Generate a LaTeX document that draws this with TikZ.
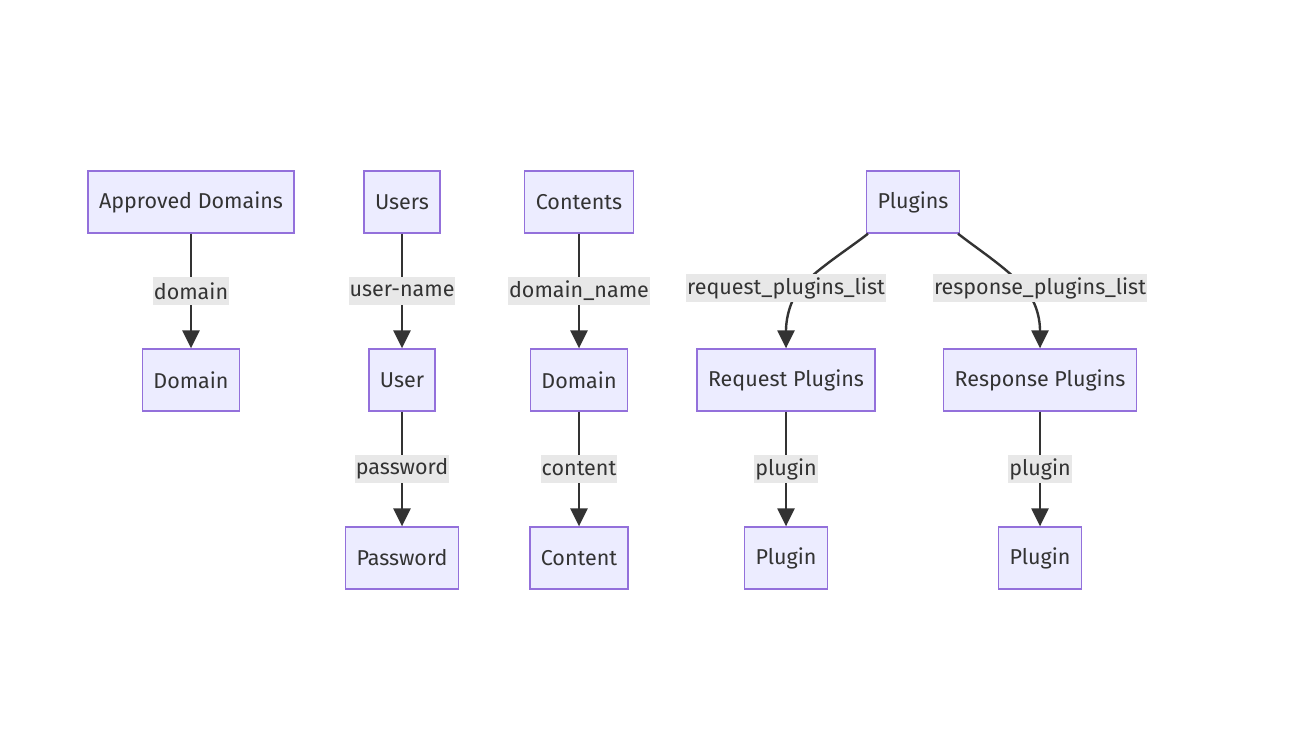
\documentclass[tikz,border=0pt]{standalone}
\usepackage{fontspec}
\setmainfont{Fira Sans}
\usepackage{tikz}
\usetikzlibrary{arrows.meta, calc}
\definecolor{mmFill}{HTML}{ECECFF}
\definecolor{mmLine}{HTML}{9370DB}
\definecolor{mmInk}{HTML}{333333}
\definecolor{mmLabel}{HTML}{E8E8E8}

\begin{document}
\begin{tikzpicture}[x=1pt,y=-1pt,
  font=\fontsize{21.5}{25}\selectfont,
  entity/.style={draw=mmLine,fill=mmFill,line width=1.3pt,minimum height=62pt,
                 inner xsep=11pt,text=mmInk},
  lbl/.style={fill=mmLabel,inner sep=1pt,minimum height=28pt,text=mmInk},
  arr/.style={-{Triangle[length=18pt,width=17pt]},line width=2.4pt,draw=mmInk}]
\useasboundingbox[fill=white] (0,0) rectangle (1296,754);

% ===== top row =====
\node[entity] (appr) at (191,202) {Approved Domains};
\node[entity] (users) at (402,202) {Users};
\node[entity] (conts) at (579,202) {Contents};
\node[entity] (plugs) at (913,202) {Plugins};

% ===== middle row =====
\node[entity] (dom1) at (191,380) {Domain};
\node[entity] (user) at (402,380) {User};
\node[entity] (dom2) at (579,380) {Domain};
\node[entity] (reqp) at (786,380) {Request Plugins};
\node[entity] (resp) at (1040,380) {Response Plugins};

% ===== bottom row =====
\node[entity] (pass) at (402,558) {Password};
\node[entity] (cont) at (579,558) {Content};
\node[entity] (plg1) at (786,558) {Plugin};
\node[entity] (plg2) at (1040,558) {Plugin};

% straight edges
\draw[arr] (appr.south) -- node[lbl] {domain} (dom1.north);
\draw[arr] (users.south) -- node[lbl] {user-name} (user.north);
\draw[arr] (user.south) -- node[lbl] {password} (pass.north);
\draw[arr] (conts.south) -- node[lbl] {domain\_name} (dom2.north);
\draw[arr] (dom2.south) -- node[lbl] {content} (cont.north);
\draw[arr] (reqp.south) -- node[lbl] {plugin} (plg1.north);
\draw[arr] (resp.south) -- node[lbl] {plugin} (plg2.north);

% curved edges out of Plugins
\draw[arr] ($(plugs.south)+(-45,0)$) .. controls (850,248) and (815,270) .. (800,288)
  node[lbl,xshift=-14pt] {request\_plugins\_list}
  .. controls (792,298) and (786,315) .. (reqp.north);
\draw[arr] ($(plugs.south)+(45,0)$) .. controls (976,248) and (1010,270) .. (1024,288)
  node[lbl,xshift=16pt] {response\_plugins\_list}
  .. controls (1034,298) and (1040,315) .. (resp.north);
\end{tikzpicture}
\end{document}
